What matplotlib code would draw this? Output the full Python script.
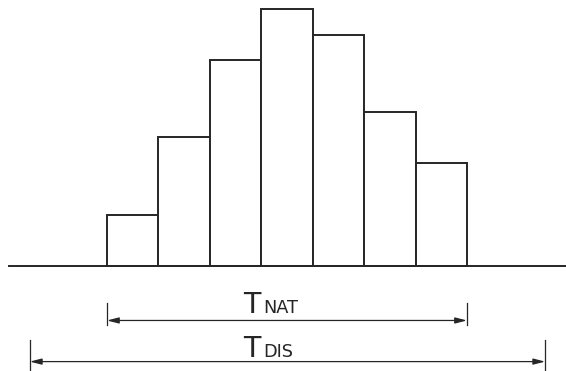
import matplotlib.pyplot as plt
import numpy as np

# histogram values (relative class counts)
bins = [0, 1, 2, 3, 4, 5, 6]
counts = [2, 5, 8, 10, 9, 6, 4]

# dimension line spans in bar-width units
nat_span = (0.0, 7.0)
dis_span = (-1.50, 8.52)

ink = "#262626"

fig = plt.figure(figsize=(5.66, 3.71), dpi=100)
fig.patch.set_facecolor("white")
ax = fig.add_axes([0, 0, 1, 1])
ax.set_xlim(-2.080, 8.925)
ax.set_ylim(-4.086, 10.350)
ax.axis("off")

# bars
ax.bar(bins, counts, width=1.0, align="edge", facecolor="white",
       edgecolor=ink, linewidth=1.4, zorder=2)

# baseline
ax.plot([-1.90, 9.0], [0, 0], color=ink, linewidth=1.4, zorder=3)


def dimension(x0, x1, y, tick_lo, tick_hi, sub, text_y):
    ax.annotate("", xy=(x0, y), xytext=(x1, y),
                arrowprops=dict(arrowstyle="<|-|>,head_length=0.7,head_width=0.18",
                                color=ink, lw=0.9, shrinkA=0, shrinkB=0,
                                mutation_scale=10))
    for x in (x0, x1):
        ax.plot([x, x], [tick_lo, tick_hi], color=ink, linewidth=0.9)
    xm = (243 - 107) / 51.43
    ax.text(xm, text_y, "T", fontsize=20.5, color=ink, ha="left", va="baseline")
    ax.text(xm + 0.40, text_y, sub, fontsize=12.8, color=ink, ha="left",
            va="baseline")


dimension(nat_span[0], nat_span[1], -2.12, -1.44, -2.30, "NAT", -1.83)
dimension(dis_span[0], dis_span[1], -3.72, -2.88, -4.10, "DIS", -3.54)

plt.savefig("out.png", dpi=100, facecolor="white")
plt.close()
